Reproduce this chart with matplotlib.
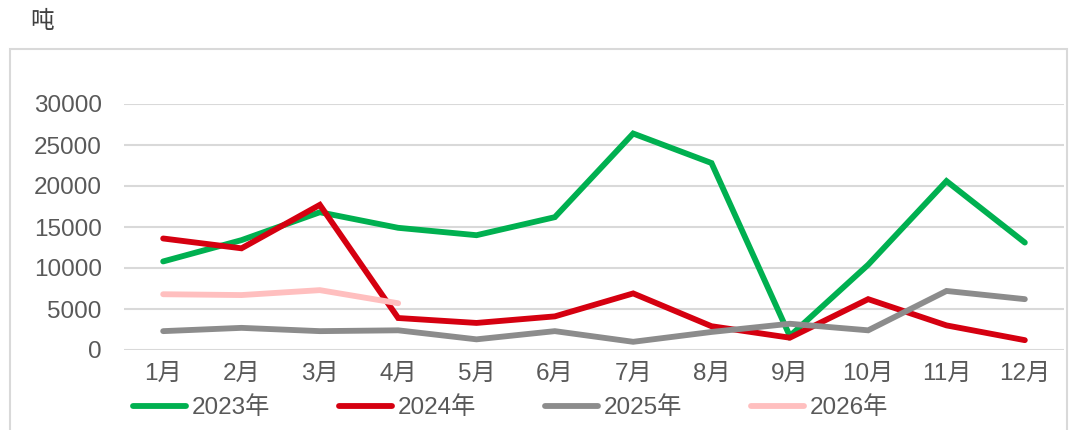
import matplotlib.pyplot as plt
from matplotlib.patches import Rectangle

plt.rcParams['font.family'] = ['Liberation Sans', 'Noto Sans CJK SC', 'DejaVu Sans']

months = ['1月', '2月', '3月', '4月', '5月', '6月', '7月', '8月', '9月', '10月', '11月', '12月']
y2023 = [10800, 13400, 16800, 14900, 14000, 16200, 26400, 22800, 1700, 10400, 20600, 13100]
y2024 = [13600, 12400, 17700, 3900, 3300, 4100, 6900, 2900, 1500, 6200, 3000, 1200]
y2025 = [2300, 2700, 2300, 2400, 1300, 2300, 1000, 2200, 3200, 2400, 7200, 6200]
y2026 = [6800, 6700, 7300, 5700]

series = [('2023年', y2023, '#00B050'),
          ('2024年', y2024, '#D50010'),
          ('2025年', y2025, '#8C8C8C'),
          ('2026年', y2026, '#FFBFBF')]

W, H = 1069, 430
fig = plt.figure(figsize=(W / 100, H / 100), dpi=100)

# outer frame
fig.patches.append(Rectangle((10 / W, -0.05), (1067 - 10) / W, (H - 49) / H + 0.05,
                             transform=fig.transFigure, fill=False,
                             edgecolor='#D9D9D9', lw=1.5))

ax = fig.add_axes([124 / W, (H - 350) / H, (1064 - 124) / W, (350 - 104) / H])

x = list(range(len(months)))
for name, vals, col in series:
    ax.plot(x[:len(vals)], vals, color=col, lw=4.2, label=name,
            solid_capstyle='round', solid_joinstyle='miter')

ax.set_xlim(-0.5, 11.5)
ax.set_ylim(0, 30000)
ax.set_yticks(range(0, 30001, 5000))
ax.set_xticks(x)
ax.set_xticklabels(months)
ax.grid(axis='y', color='#D9D9D9', lw=1.5)
ax.set_axisbelow(True)
for s in ax.spines.values():
    s.set_visible(False)
ax.tick_params(length=0, labelsize=17.5, labelcolor='#595959')
ax.tick_params(axis='y', pad=16)
ax.tick_params(axis='x', pad=9)

fig.text(42 / W, 1 - 22 / H, '吨', fontsize=17, ha='center', va='center', color='#404040')

fig.legend(loc='center left', bbox_to_anchor=(133 / W, 1 - 408 / H), ncol=4,
           frameon=False, fontsize=17.5, handlelength=2.2, handletextpad=0.2,
           columnspacing=2.85, borderpad=0, borderaxespad=0,
           labelcolor='#595959')

fig.savefig('out.png', dpi=100)
